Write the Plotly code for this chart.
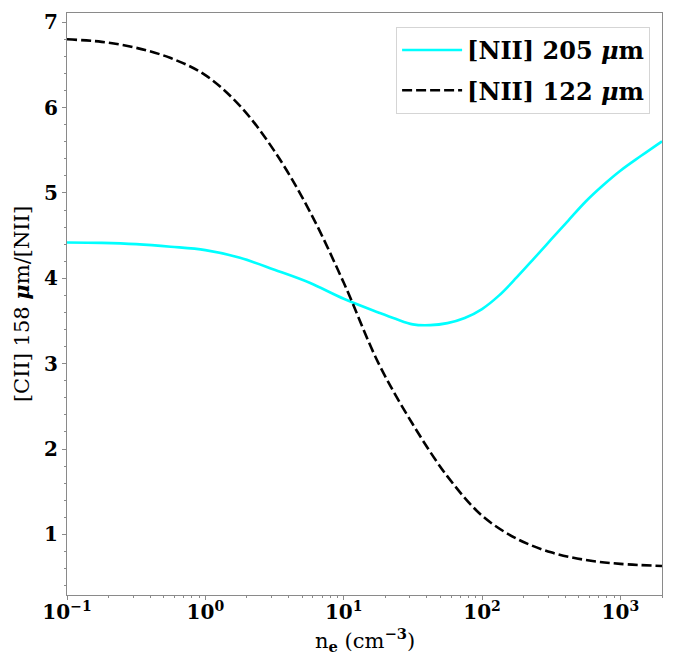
import numpy as np
import plotly.graph_objects as go

# ---- data ----
ne_205 = [0.1, 0.178, 0.316, 0.562, 1.0, 1.78, 3.16, 5.62, 10.0, 17.8, 23.7, 31.6, 42.2, 56.2,
          75.0, 100.0, 133.0, 178.0, 237.0, 316.0, 422.0, 562.0, 750.0, 1000.0, 1413.0, 2000.0]
ratio_205 = [4.42, 4.415, 4.40, 4.37, 4.33, 4.24, 4.10, 3.95, 3.76, 3.60, 3.525, 3.46, 3.451, 3.475,
             3.535, 3.64, 3.80, 4.01, 4.23, 4.455, 4.68, 4.90, 5.09, 5.26, 5.435, 5.605]

ne_122 = [0.1, 0.178, 0.316, 0.562, 1.0, 1.78, 3.16, 5.62, 10.0, 17.8, 31.6, 56.2,
          100.0, 178.0, 316.0, 562.0, 1000.0, 2000.0]
ratio_122 = [6.80, 6.77, 6.70, 6.58, 6.38, 6.02, 5.49, 4.80, 3.95, 3.01, 2.29, 1.68,
             1.22, 0.95, 0.79, 0.70, 0.655, 0.63]

series_names = ["<b>[NII] 205 <i>μ</i>m</b>", "<b>[NII] 122 <i>μ</i>m</b>"]

x_tick_vals = [0.1, 1, 10, 100, 1000]
x_tick_text = ["<b>10<sup>−1</sup></b>", "<b>10<sup>0</sup></b>", "<b>10<sup>1</sup></b>",
               "<b>10<sup>2</sup></b>", "<b>10<sup>3</sup></b>"]
y_tick_vals = [1, 2, 3, 4, 5, 6, 7]
y_tick_text = ["<b>%d</b>" % v for v in y_tick_vals]

x_minor = [m * 10.0 ** e for e in range(-1, 4) for m in range(2, 10) if m * 10.0 ** e <= 2000]

fig = go.Figure()
fig.add_trace(go.Scatter(
    x=ne_205, y=ratio_205, mode="lines", name=series_names[0],
    line=dict(color="#00FFFF", width=2.6, shape="spline", smoothing=1.0),
    legendgroup="a",
))
fig.add_trace(go.Scatter(
    x=ne_122, y=ratio_122, mode="lines", name=series_names[1],
    line=dict(color="black", width=2.6, dash="10px,4px", shape="spline", smoothing=1.0),
    legendgroup="b",
))

serif = "DejaVu Serif"
spine = "#8a8a8a"

fig.update_layout(
    width=673, height=660,
    margin=dict(l=67, r=11, t=10, b=65),
    paper_bgcolor="white", plot_bgcolor="white",
    font=dict(family=serif, color="black"),
    showlegend=True,
    legend=dict(
        x=0.98, xanchor="right", y=0.976, yanchor="top",
        bgcolor="rgba(255,255,255,0.8)", bordercolor="#d5d5d5", borderwidth=1,
        font=dict(family=serif, size=24, color="black"),
        tracegroupgap=6, traceorder="grouped", itemwidth=60,
    ),
    xaxis=dict(
        type="log", range=[-1, np.log10(2000)],
        tickmode="array", tickvals=x_tick_vals, ticktext=x_tick_text,
        tickfont=dict(family=serif, size=20, color="black"),
        ticks="outside", ticklen=4, tickwidth=1, tickcolor=spine,
        ticklabelstandoff=-5,
        showline=True, linecolor=spine, linewidth=1.2, mirror=True,
        showgrid=False, zeroline=False,
        minor=dict(tickmode="array", tickvals=x_minor, ticks="outside", ticklen=2, tickwidth=1, tickcolor=spine),
    ),
    yaxis=dict(
        range=[0.29, 7.108],
        tickmode="array", tickvals=y_tick_vals, ticktext=y_tick_text,
        tickfont=dict(family=serif, size=20, color="black"),
        ticks="outside", ticklen=4, tickwidth=1, tickcolor=spine,
        showline=True, linecolor=spine, linewidth=1.2, mirror=True,
        showgrid=False, zeroline=False,
        minor=dict(dtick=0.2, tick0=0, ticks="outside", ticklen=2, tickwidth=1, tickcolor=spine),
        title=dict(text="[CII] 158 <b><i>μ</i></b>m/[NII]",
                   font=dict(family=serif, size=21, color="black"), standoff=8),
    ),
    annotations=[dict(
        text="n<sub><b>e</b></sub> (cm<sup><b>−3</b></sup>)",
        xref="paper", yref="paper", x=0.5, y=-0.077, xanchor="center", yanchor="middle",
        showarrow=False, font=dict(family=serif, size=21, color="black"),
    )],
)

fig.write_html("out.html", config={"displayModeBar": False},
               post_script="document.body.style.margin='0';document.body.style.overflow='hidden';")
